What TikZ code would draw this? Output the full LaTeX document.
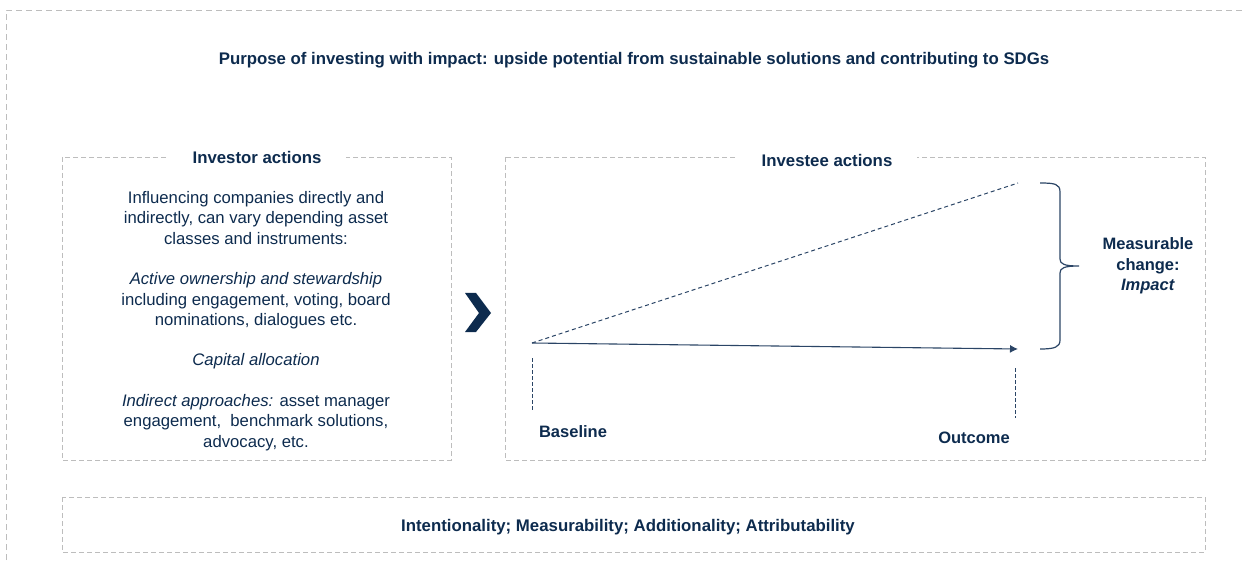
\documentclass[tikz,border=0pt]{standalone}
\usepackage{fontspec}
\setmainfont{Liberation Sans}
\usetikzlibrary{arrows.meta}
\definecolor{navy}{HTML}{0D2B4E}
\definecolor{lnavy}{HTML}{2B4566}
\definecolor{boxgray}{HTML}{BDBDBD}
\tikzset{
  dbox/.style={draw=boxgray, line width=0.9pt, dash pattern=on 5pt off 3pt},
  hd/.style={font=\fontsize{16.8}{20}\selectfont\bfseries, text=navy, fill=white},
  body/.style={font=\fontsize{16.7}{20.3}\selectfont, text=navy, align=center},
  lbl/.style={font=\fontsize{16.5}{20.5}\selectfont\bfseries, text=navy, align=center},
  tick/.style={draw=lnavy, line width=1pt, dash pattern=on 4pt off 2pt},
}
\begin{document}
\begin{tikzpicture}[x=1pt,y=-1pt]
\useasboundingbox (0,0) rectangle (1243,564);
% outer frame (open to the right and bottom)
\draw[dbox, dash pattern=on 6pt off 4pt] (6,570) -- (6,10) -- (1250,10);
\node[hd, fill=none] (title) at (634,60) {Purpose of investing with impact: upside potential from sustainable solutions and contributing to SDGs};
% investor box
\draw[dbox] (62,157) rectangle (451,460);
\node[hd, inner xsep=25pt] (invtitle) at (257,157) {Investor actions};
\node[body] (invbody) at (256,321) {Influencing companies directly and\\indirectly, can vary depending asset\\classes and instruments:\\[20.3pt]
\textit{Active ownership and stewardship}\\including engagement, voting, board\\nominations, dialogues etc.\\[20.3pt]
\textit{Capital allocation}\\[20.3pt]
\textit{Indirect approaches:} asset manager\\engagement,\ \ benchmark solutions,\\advocacy, etc.};
% chevron
\fill[navy] (465,293) -- (476,293) -- (491,313) -- (476,332) -- (465,332) -- (479,313) -- cycle;
% investee box
\draw[dbox] (505,157) rectangle (1205,460);
\node[hd, inner xsep=25pt] (eetitle) at (827,160) {Investee actions};
\coordinate (base) at (532,343);
\coordinate (out) at (1018,349);
\coordinate (top) at (1018,183);
\draw[lnavy, line width=1.1pt, -{Latex[length=8pt,width=8pt]}] (base) -- (out);
\draw[lnavy, line width=1pt, dash pattern=on 4pt off 3pt] (base) -- (top);
\coordinate (bt1) at (532,358); \coordinate (bt2) at (532,410);
\coordinate (ot1) at (1015,368); \coordinate (ot2) at (1015,418);
\draw[tick] (bt1) -- (bt2);
\draw[tick] (ot1) -- (ot2);
\node[lbl] (baseline) at (573,432) {Baseline};
\node[lbl] (outcome) at (974,438) {Outcome};
\coordinate (br1) at (1040,183); \coordinate (br2) at (1040,349);
\coordinate (brtip) at (1079,266);
\draw[lnavy, line width=1.2pt] (br1) .. controls (1055,183) and (1060,184) .. (1060,192) -- (1060,259)
  .. controls (1060,264) and (1064,266) .. (brtip)
  .. controls (1064,266) and (1060,268) .. (1060,273) -- (1060,340)
  .. controls (1060,347) and (1055,349) .. (br2);
\node[lbl] (meas) at (1148,266) {Measurable\\change:\\\textit{Impact}};
% bottom box
\draw[dbox] (62,497) rectangle (1205,552);
\node[hd, fill=none] (crit) at (628,527) {Intentionality; Measurability; Additionality; Attributability};
\end{tikzpicture}
\end{document}
